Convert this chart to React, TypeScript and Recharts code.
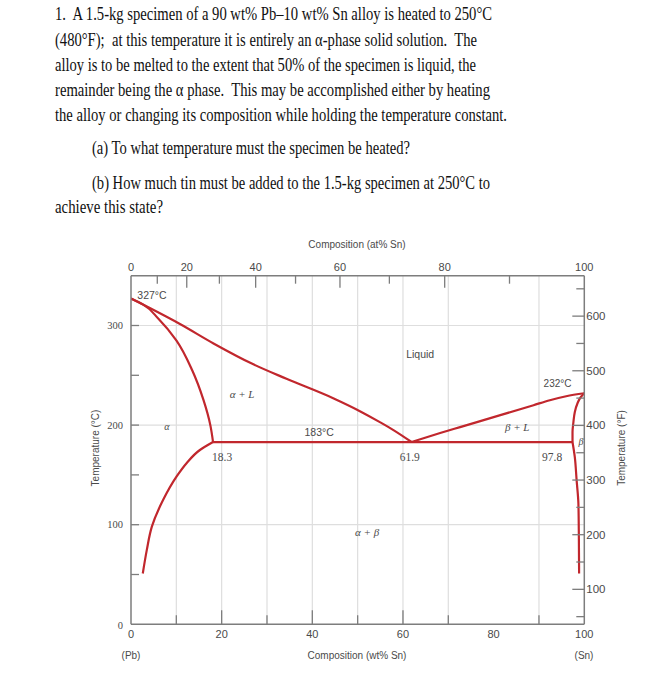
import React from "react";
import { LineChart, Line, XAxis, YAxis, ReferenceLine, ReferenceDot } from "recharts";

// Pb–Sn phase diagram: x = wt% Sn, t = °C
const liquidusLeft = [
  { x: 0, t: 327 }, { x: 5, t: 315.5 }, { x: 10.8, t: 301.5 }, { x: 18.2, t: 282 },
  { x: 27, t: 261 }, { x: 34.3, t: 246.5 }, { x: 44.6, t: 227 }, { x: 50.5, t: 214 },
  { x: 54.9, t: 203 }, { x: 57.9, t: 195 }, { x: 61.9, t: 183 },
];
const solidusLeft = [
  { x: 0, t: 327 }, { x: 2.7, t: 321 }, { x: 6, t: 307 }, { x: 10, t: 285 },
  { x: 13.5, t: 255 }, { x: 16, t: 225 }, { x: 17.5, t: 200 }, { x: 18.1, t: 183 },
];
const solvusLeft = [
  { x: 18.1, t: 183 }, { x: 15.2, t: 175 }, { x: 12.3, t: 162 }, { x: 10, t: 148 },
  { x: 7.1, t: 125 }, { x: 4.6, t: 98 }, { x: 3.5, t: 75 }, { x: 2.6, t: 51 },
];
const eutectic = [{ x: 18.1, t: 183 }, { x: 97.4, t: 183 }];
const liquidusRight = [
  { x: 61.9, t: 183 }, { x: 68.2, t: 192 }, { x: 72.6, t: 198 }, { x: 80, t: 208 },
  { x: 88.8, t: 220 }, { x: 92.4, t: 225 }, { x: 96, t: 229 }, { x: 100, t: 232 },
];
const solidusRight = [
  { x: 100, t: 232 }, { x: 99.2, t: 228 }, { x: 98.5, t: 222 }, { x: 97.9, t: 213 },
  { x: 97.6, t: 203 }, { x: 97.4, t: 193 }, { x: 97.4, t: 183 },
];
const solvusRight = [
  { x: 97.4, t: 183 }, { x: 97.9, t: 168 }, { x: 98.3, t: 145 }, { x: 98.7, t: 121 },
  { x: 98.8, t: 88 }, { x: 98.85, t: 51 },
];

const wtTicks = [0, 10, 20, 30, 40, 50, 60, 70, 80, 90, 100];
const wtGrid = [10, 20, 30, 40, 50, 60, 70, 90];
// top axis: at% Sn marks, placed at their wt% positions
const atTickWt = [0, 5.8, 12.3, 19.5, 27.5, 36.3, 46.1, 57.0, 69.2, 83.5, 100];
const atTickLabels = ["0", "", "20", "", "40", "", "60", "", "80", "", "100"];
const cTicks = [0, 50, 100, 150, 200, 250, 300];
const cGrid = [100, 200, 300];
const fTicks = [50, 100, 150, 200, 250, 300, 350, 400, 450, 500, 550, 600, 650];

const problem = [
  "1.  A 1.5-kg specimen of a 90 wt% Pb\u201310 wt% Sn alloy is heated to 250\u00b0C",
  "(480\u00b0F);  at this temperature it is entirely an \u03b1-phase solid solution.  The",
  "alloy is to be melted to the extent that 50% of the specimen is liquid, the",
  "remainder being the \u03b1 phase.  This may be accomplished either by heating",
  "the alloy or changing its composition while holding the temperature constant.",
  "(a) To what temperature must the specimen be heated?",
  "(b) How much tin must be added to the 1.5-kg specimen at 250\u00b0C to",
  "achieve this state?",
];
const problemLayout = [
  { x: 55, y: 20, w: 437 },
  { x: 55, y: 45.5, w: 422 },
  { x: 55, y: 70.5, w: 421 },
  { x: 55, y: 95.5, w: 435 },
  { x: 55, y: 120.5, w: 452 },
  { x: 92, y: 154, w: 318 },
  { x: 92, y: 188.5, w: 398 },
  { x: 55, y: 212.5, w: 108 },
];

const SANS = '"Liberation Sans", Arial, sans-serif';
const SERIF = '"Liberation Serif", "Times New Roman", serif';
const RED = "#c1272d";
const AXIS = "#7d7d7d";
const GRID = "#dedede";
const TEXT = "#4a4a4a";

const notes = [
  { x: 1.4, t: 331, text: "327\u00b0C", anchor: "start", font: SANS, size: 10.5 },
  { x: 63.8, t: 271.5, text: "Liquid", anchor: "middle", font: SANS, size: 10.5 },
  { x: 94.1, t: 241.3, text: "232\u00b0C", anchor: "middle", font: SANS, size: 10 },
  { x: 41.5, t: 193, text: "183\u00b0C", anchor: "middle", font: SANS, size: 10.5 },
  { x: 24.5, t: 231.3, text: "\u03b1 + L", anchor: "middle", font: SERIF, size: 11, italic: true },
  { x: 7.9, t: 199, text: "\u03b1", anchor: "middle", font: SERIF, size: 10, italic: true },
  { x: 85.2, t: 198, text: "\u03b2 + L", anchor: "middle", font: SERIF, size: 11, italic: true },
  { x: 98.7, t: 184, text: "\u03b2", anchor: "start", font: SERIF, size: 10, italic: true },
  { x: 52.1, t: 92.7, text: "\u03b1 + \u03b2", anchor: "middle", font: SERIF, size: 11, italic: true },
  { x: 20.1, t: 168, text: "18.3", anchor: "middle", font: SERIF, size: 11.5 },
  { x: 61.5, t: 168, text: "61.9", anchor: "middle", font: SERIF, size: 11.5 },
  { x: 92.9, t: 168, text: "97.8", anchor: "middle", font: SERIF, size: 11.5 },
];

const BottomTick = (props: any) => {
  const { x, y, payload } = props;
  const v = payload.value;
  const len = v === 0 || v === 100 || v === 80 ? 0 : v % 20 === 0 ? 14 : 9;
  return (
    <g>
      {len > 0 && <line x1={x} y1={y} x2={x} y2={y - len} stroke={AXIS} strokeWidth={1.3} />}
      {v % 20 === 0 && (
        <text x={x} y={y + 10} textAnchor="middle" dominantBaseline="central" fontSize={11} fontFamily={SANS} fill={TEXT}>
          {v}
        </text>
      )}
    </g>
  );
};

const TopTick = (props: any) => {
  const { x, y, index } = props;
  const label = atTickLabels[index];
  const edge = index === 0 || index === atTickLabels.length - 1;
  const len = edge ? 0 : label ? 12 : 8;
  return (
    <g>
      {len > 0 && <line x1={x} y1={y} x2={x} y2={y + len} stroke={AXIS} strokeWidth={1.3} />}
      {label && (
        <text x={x} y={y - 9} textAnchor="middle" dominantBaseline="central" fontSize={11} fontFamily={SANS} fill={TEXT}>
          {label}
        </text>
      )}
    </g>
  );
};

const LeftTick = (props: any) => {
  const { x, y, payload } = props;
  const v = payload.value;
  return (
    <g>
      {v > 0 && <line x1={x} y1={y} x2={x + 8} y2={y} stroke={AXIS} strokeWidth={1.3} />}
      {v % 100 === 0 && (
        <text x={x - 8} y={y + (v === 0 ? 1 : 0)} textAnchor="end" dominantBaseline="central" fontSize={10.5} fontFamily={SERIF} fill={TEXT}>
          {v}
        </text>
      )}
    </g>
  );
};

const RightTick = (props: any) => {
  const { x, y, payload } = props;
  const v = payload.value;
  const major = v % 100 === 0;
  return (
    <g>
      <line x1={x} y1={y} x2={x - (major ? 12 : 8)} y2={y} stroke={AXIS} strokeWidth={1.3} />
      {major && (
        <text x={x + 2} y={y} textAnchor="start" dominantBaseline="central" fontSize={11.5} fontFamily={SANS} fill={TEXT}>
          {v}
        </text>
      )}
    </g>
  );
};

// liquidus curves run left-right, the steep boundaries are smoothed along the temperature axis
const series = [
  { d: liquidusLeft, curve: "monotoneX" },
  { d: solidusLeft, curve: "monotoneY" },
  { d: solvusLeft, curve: "monotoneY" },
  { d: eutectic, curve: "linear" },
  { d: liquidusRight, curve: "monotoneX" },
  { d: solidusRight, curve: "monotoneY" },
  { d: solvusRight, curve: "monotoneY" },
];

export default function App() {
  return (
    <div style={{ position: "absolute", left: 0, top: 0, width: 667, height: 679, background: "#fff" }}>
      <svg width={667} height={230} style={{ position: "absolute", left: 0, top: 0 }}>
        {problem.map((line, i) => (
          <text
            key={i}
            x={problemLayout[i].x}
            y={problemLayout[i].y}
            textLength={problemLayout[i].w}
            lengthAdjust="spacingAndGlyphs"
            fontSize={17.8}
            fontFamily={SERIF}
            fill="#111"
            style={{ whiteSpace: "pre" }}
          >
            {line}
          </text>
        ))}
      </svg>
      <div style={{ position: "absolute", left: 0, top: 0 }}>
        <LineChart width={667} height={679} margin={{ top: 245.7, right: 0, bottom: 24.7, left: 0 }}>
          {wtGrid.map((v) => (
            <ReferenceLine key={`gx${v}`} xAxisId="wt" yAxisId="c" x={v} stroke={GRID} strokeWidth={1.2} />
          ))}
          {cGrid.map((v) => (
            <ReferenceLine key={`gy${v}`} xAxisId="wt" yAxisId="c" y={v} stroke={GRID} strokeWidth={1.2} />
          ))}
          <XAxis
            xAxisId="wt"
            type="number"
            dataKey="x"
            domain={[0, 100]}
            ticks={wtTicks}
            interval={0}
            allowDataOverflow
            orientation="bottom"
            height={30}
            tickSize={0}
            tickMargin={0}
            tickLine={false}
            axisLine={{ stroke: AXIS, strokeWidth: 1.5 }}
            tick={<BottomTick />}
          />
          <XAxis
            xAxisId="at"
            type="number"
            dataKey="x"
            domain={[0, 100]}
            ticks={atTickWt}
            interval={0}
            allowDataOverflow
            orientation="top"
            height={30}
            tickSize={0}
            tickMargin={0}
            tickLine={false}
            axisLine={{ stroke: AXIS, strokeWidth: 1.5 }}
            tick={<TopTick />}
          />
          <YAxis
            yAxisId="c"
            type="number"
            domain={[0, 350]}
            ticks={cTicks}
            interval={0}
            allowDataOverflow
            orientation="left"
            width={131}
            tickSize={0}
            tickMargin={0}
            tickLine={false}
            axisLine={{ stroke: AXIS, strokeWidth: 1.5 }}
            tick={<LeftTick />}
          />
          <YAxis
            yAxisId="f"
            type="number"
            domain={[36, 674]}
            ticks={fTicks}
            interval={0}
            allowDataOverflow
            orientation="right"
            width={82.7}
            tickSize={0}
            tickMargin={0}
            tickLine={false}
            axisLine={{ stroke: AXIS, strokeWidth: 1.5 }}
            tick={<RightTick />}
          />
          {series.map((s, i) => (
            <Line
              key={i}
              xAxisId="wt"
              yAxisId="c"
              data={s.d}
              dataKey="t"
              type={s.curve as any}
              stroke={RED}
              strokeWidth={2.2}
              dot={false}
              activeDot={false}
              isAnimationActive={false}
            />
          ))}
          {notes.map((n, i) => (
            <ReferenceDot
              key={`n${i}`}
              xAxisId="wt"
              yAxisId="c"
              x={n.x}
              y={n.t}
              r={0}
              shape={(p: any) => (
                <text
                  x={p.cx}
                  y={p.cy}
                  textAnchor={n.anchor as any}
                  dominantBaseline="central"
                  fontSize={n.size}
                  fontFamily={n.font}
                  fontStyle={n.italic ? "italic" : "normal"}
                  fill={TEXT}
                >
                  {n.text}
                </text>
              )}
            />
          ))}
        </LineChart>
      </div>
      <svg width={667} height={679} style={{ position: "absolute", left: 0, top: 0, pointerEvents: "none" }}>
        <g fontFamily={SANS} fontSize={10} fill={TEXT} textAnchor="middle">
          <text x={357} y={244} dominantBaseline="central">Composition (at% Sn)</text>
          <text x={357} y={655} dominantBaseline="central">Composition (wt% Sn)</text>
          <text x={131} y={655} dominantBaseline="central">(Pb)</text>
          <text x={584} y={655} dominantBaseline="central">(Sn)</text>
          <text x={95} y={448} dominantBaseline="central" transform="rotate(-90 95 448)">Temperature (°C)</text>
          <text x={621} y={448} dominantBaseline="central" transform="rotate(-90 621 448)">Temperature (°F)</text>
        </g>
      </svg>
    </div>
  );
}
